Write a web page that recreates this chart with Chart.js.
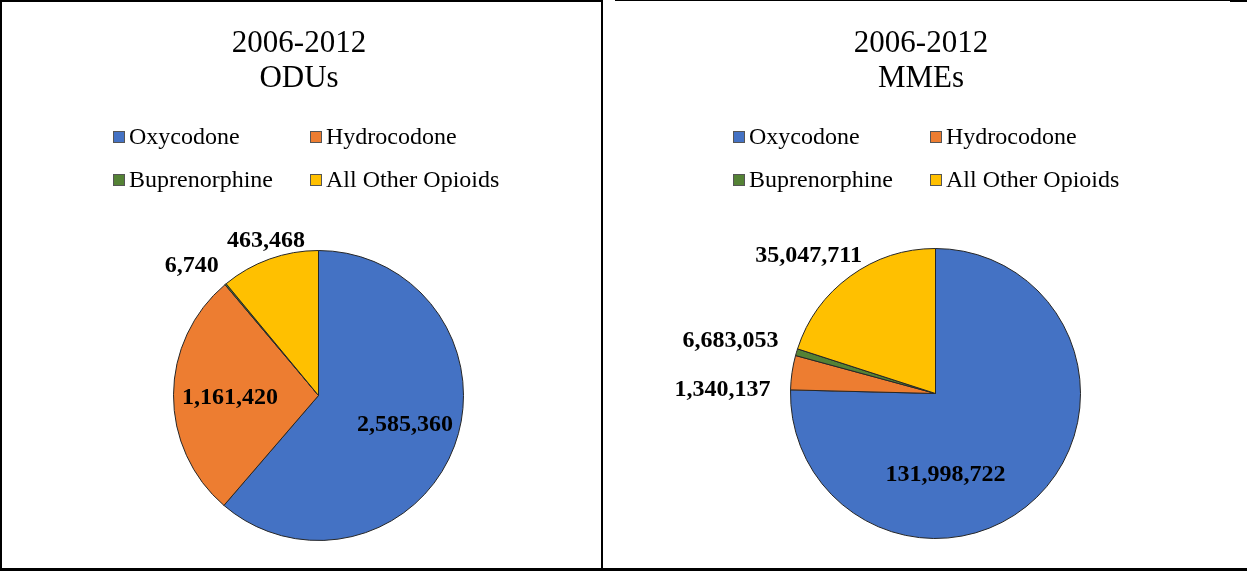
<!DOCTYPE html>
<html>
<head>
<meta charset="utf-8">
<script src="https://cdn.jsdelivr.net/npm/chart.js@4.4.1/dist/chart.umd.min.js"></script>
<style>
  body { margin: 0; background: #fff; }
  #wrap { position: relative; width: 1247px; height: 571px; overflow: hidden; }
  canvas { position: absolute; top: 0; }
  .ln { position: absolute; background: #000; }
</style>
</head>
<body>
<div id="wrap">
  <canvas id="oduChart" width="601" height="570" style="left:0"></canvas>
  <canvas id="mmeChart" width="645" height="570" style="left:602px"></canvas>
  <div class="ln" style="left:0;top:0;width:603px;height:2px"></div>
  <div class="ln" style="left:0;top:0;width:2px;height:571px"></div>
  <div class="ln" style="left:601px;top:0;width:2px;height:571px"></div>
  <div class="ln" style="left:615px;top:0;width:615px;height:1px"></div>
  <div class="ln" style="left:1230px;top:0;width:17px;height:2px"></div>
  <div class="ln" style="left:0;top:568px;width:1247px;height:3px"></div>
</div>
<script>
// categories
var drugs = ['Oxycodone', 'Hydrocodone', 'Buprenorphine', 'All Other Opioids'];
var colors = ['#4472C4', '#ED7D31', '#548235', '#FFC000'];

// ODUs, 2006-2012
var oduValues = [2585360, 1161420, 6740, 463468];
var oduLabels = oduValues.map(function (v) { return v.toLocaleString('en-US'); });

// MMEs, 2006-2012 (slice sizes as drawn; labels as printed next to the slices)
var mmeValues = [131998722, 6683053, 1340137, 35047711];
var mmeLabels = ['131,998,722', '1,340,137', '6,683,053', '35,047,711'];

var serif = '"Liberation Serif", "Times New Roman", serif';

// title + two-column legend, drawn on the canvas
var headerPlugin = {
  id: 'header',
  afterDraw: function (chart, args, opts) {
    var ctx = chart.ctx;
    ctx.save();
    ctx.fillStyle = '#000';
    ctx.textAlign = 'center';
    ctx.textBaseline = 'alphabetic';
    ctx.font = '31px ' + serif;
    opts.title.forEach(function (t, i) { ctx.fillText(t, opts.titleX, 52 + i * 35); });

    ctx.font = '24px ' + serif;
    ctx.textAlign = 'left';
    ctx.textBaseline = 'middle';
    var ds = chart.data.datasets[0];
    chart.data.labels.forEach(function (lab, i) {
      var x = opts.legendX + (i % 2) * 197;
      var y = 137 + Math.floor(i / 2) * 43;
      ctx.fillStyle = ds.backgroundColor[i];
      ctx.fillRect(x, y - 6, 12, 12);
      ctx.strokeStyle = '#555';
      ctx.lineWidth = 1;
      ctx.strokeRect(x + 0.5, y - 5.5, 11, 11);
      ctx.fillStyle = '#000';
      ctx.fillText(lab, x + 16, y + 1);
    });
    ctx.restore();
  }
};

// data labels placed around each slice: [angle in degrees, fraction of radius]
var labelPlugin = {
  id: 'sliceLabels',
  afterDatasetsDraw: function (chart, args, opts) {
    var ctx = chart.ctx;
    var arcs = chart.getDatasetMeta(0).data;
    ctx.save();
    ctx.font = 'bold 24px ' + serif;
    ctx.fillStyle = '#000';
    ctx.textAlign = 'center';
    ctx.textBaseline = 'middle';
    arcs.forEach(function (arc, i) {
      var p = opts.pos[i];
      var a = p[0] * Math.PI / 180;
      var r = arc.outerRadius * p[1];
      ctx.fillText(opts.text[i], arc.x + Math.cos(a) * r, arc.y + Math.sin(a) * r);
    });
    ctx.restore();
  }
};

function makePie(id, values, labelText, pad, title, titleX, legendX, pos) {
  return new Chart(document.getElementById(id), {
    type: 'pie',
    data: {
      labels: drugs,
      datasets: [{
        data: values,
        backgroundColor: colors,
        borderColor: '#262626',
        borderWidth: 1
      }]
    },
    options: {
      responsive: false,
      animation: false,
      layout: { padding: pad },
      plugins: {
        legend: { display: false },
        tooltip: { enabled: false },
        header: { title: title, titleX: titleX, legendX: legendX },
        sliceLabels: { text: labelText, pos: pos }
      }
    },
    plugins: [headerPlugin, labelPlugin]
  });
}

makePie('oduChart', oduValues, oduLabels,
  { left: 173, right: 137, top: 250, bottom: 29 },
  ['2006-2012', 'ODUs'], 299, 113,
  [[18.8, 0.63], [178.4, 0.61], [225.6, 1.25], [251.2, 1.125]]);

makePie('mmeChart', mmeValues, mmeLabels,
  { left: 188, right: 166, top: 248, bottom: 31 },
  ['2006-2012', 'MMEs'], 319, 131,
  [[83, 0.566], [180.9, 1.469], [194.4, 1.459], [227.3, 1.291]]);
</script>
</body>
</html>
